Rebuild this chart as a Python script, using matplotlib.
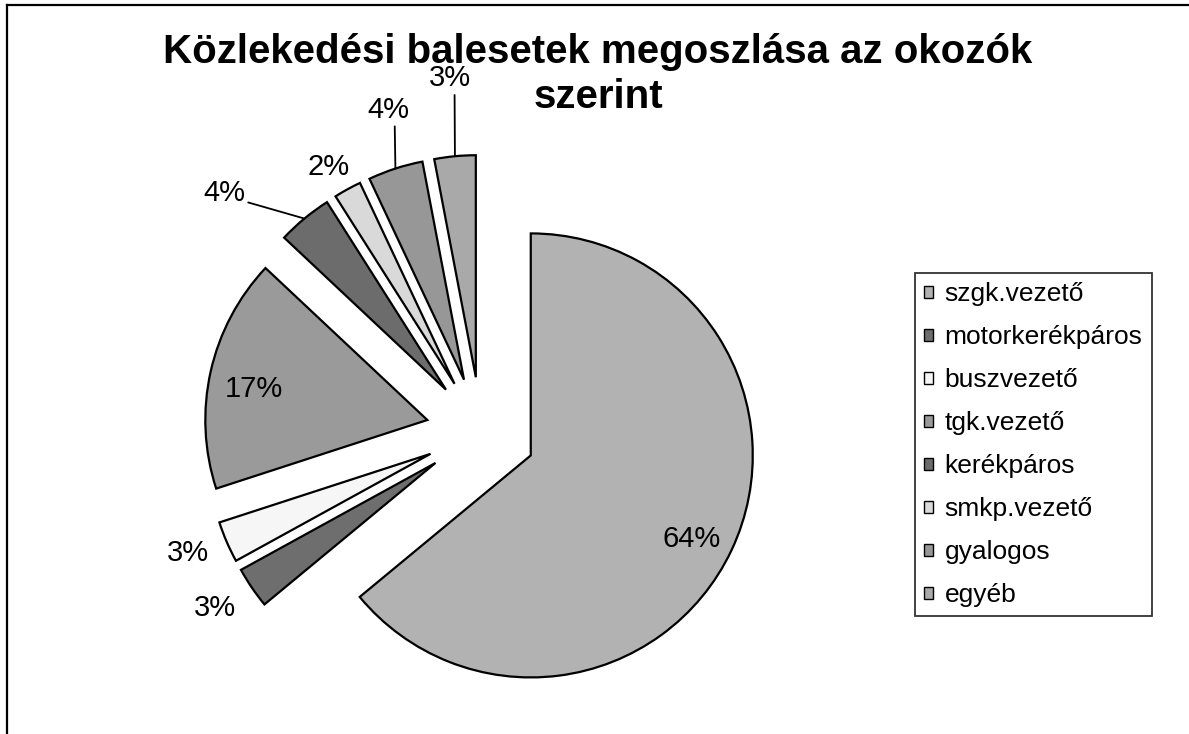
import numpy as np
import matplotlib.pyplot as plt

plt.rcParams['font.family'] = ['Liberation Sans', 'DejaVu Sans']

# Data
categories = ["szgk.vezető", "motorkerékpáros", "buszvezető", "tgk.vezető",
              "kerékpáros", "smkp.vezető", "gyalogos", "egyéb"]
shares = [64, 3, 3, 17, 4, 2, 4, 3]
title_lines = ["Közlekedési balesetek megoszlása az okozók", "szerint"]

# grey tones standing in for the scanned fill patterns
colors = ["#b2b2b2", "#6e6e6e", "#f6f6f6", "#9a9a9a",
          "#6c6c6c", "#d9d9d9", "#979797", "#a9a9a9"]

# label placement: None = inside the slice, otherwise pixel offset from the arc midpoint
label_offsets = [None, (-37, -20), (-39, -11), None, (-80, 26), (-19, 22), (-7, 59), (-5, 78)]
leader = [None, None, None, None,
          dict(relpos=(1.0, 0.25), connectionstyle="angle,angleA=0,angleB=164,rad=0"),
          None,
          dict(relpos=(0.65, 0.0)),
          dict(relpos=(0.61, 0.0))]

W, H = 1189, 734
fig = plt.figure(figsize=(W / 100, H / 100), dpi=100)
ax = fig.add_axes([0, 0, 1, 1])

wedges, _ = ax.pie(shares, colors=colors, startangle=90, counterclock=False,
                   center=(481, H - 432), radius=222, explode=[55] * len(shares),
                   wedgeprops=dict(edgecolor="black", linewidth=1.6))
ax.set_xlim(0, W)
ax.set_ylim(0, H)
ax.set_aspect("equal")
ax.axis("off")

# percentage labels
for w, share, off, lead in zip(wedges, shares, label_offsets, leader):
    ang = np.deg2rad((w.theta1 + w.theta2) / 2)
    cx, cy = w.center
    txt = f"{share}%"
    if off is None:
        ax.text(cx + 0.8 * w.r * np.cos(ang), cy + 0.8 * w.r * np.sin(ang) - 8, txt,
                ha="center", va="center", fontsize=21)
        continue
    ox, oy = cx + w.r * np.cos(ang), cy + w.r * np.sin(ang)
    props = None
    if lead is not None:
        props = dict(arrowstyle="-", color="black", lw=1.3, shrinkA=0, shrinkB=0, **lead)
    ax.annotate(txt, (ox, oy), xytext=off, textcoords="offset pixels",
                ha="center", va="center", fontsize=21, arrowprops=props)

# title, two lines
for i, line in enumerate(title_lines):
    ax.text(598, H - 63 - 45 * i, line, ha="center", va="baseline",
            fontsize=29, fontweight="bold")

# legend
leg = ax.legend(wedges, categories, loc="upper left",
                bbox_to_anchor=(915 / W, 1 - 273 / H), bbox_transform=fig.transFigure,
                borderaxespad=0, fontsize=19, frameon=True, fancybox=False,
                edgecolor="black", handlelength=0.32, handleheight=0.32,
                handletextpad=0.45, labelspacing=0.72, borderpad=0.35)
leg.get_frame().set_linewidth(1.3)
for h in leg.legend_handles:
    h.set_linewidth(1.0)

# scanned chart-area border (top and left edges visible)
ax.plot([7, W], [H - 5, H - 5], color="black", lw=1.6, clip_on=False)
ax.plot([7, 7], [0, H - 5], color="black", lw=1.6, clip_on=False)

fig.savefig("out.png", dpi=100)
